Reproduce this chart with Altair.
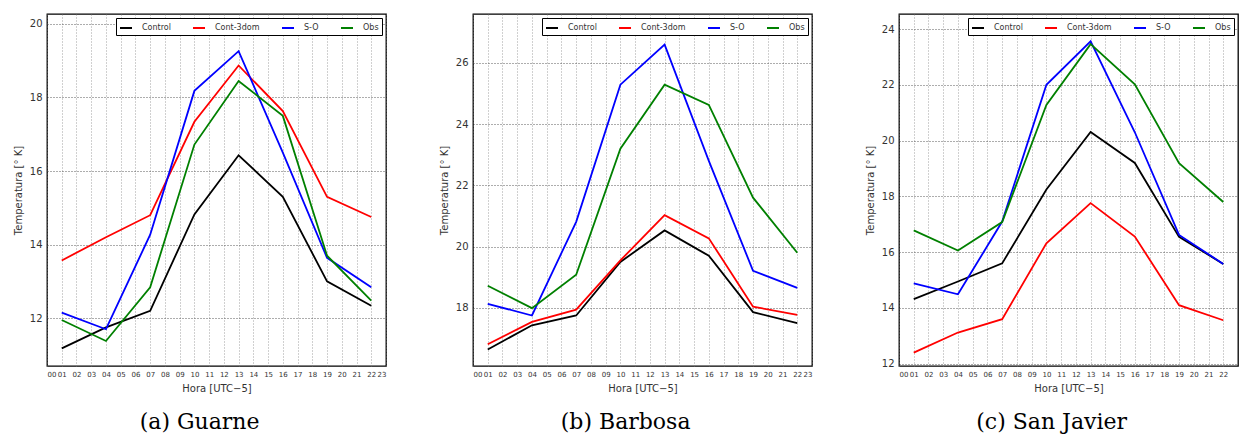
import altair as alt
import pandas as pd

# Hours of the simulated / observed records (UTC-5)
hours = [1, 4, 7, 10, 13, 16, 19, 22]
series_names = ["Control", "Cont-3dom", "S-O", "Obs"]
series_colors = ["#000000", "#ff0000", "#0000ff", "#008000"]

# Guarne
guarne_control = [11.18, 11.75, 12.2, 14.82, 16.43, 15.3, 13.0, 12.34]
guarne_cont3dom = [13.57, 14.2, 14.8, 17.34, 18.87, 17.63, 15.3, 14.75]
guarne_so = [12.15, 11.7, 14.27, 18.18, 19.26, 16.5, 13.64, 12.84]
guarne_obs = [11.95, 11.38, 12.84, 16.72, 18.45, 17.5, 13.7, 12.48]

# Barbosa
barbosa_control = [16.64, 17.43, 17.75, 19.5, 20.53, 19.7, 17.86, 17.5]
barbosa_cont3dom = [16.81, 17.54, 17.94, 19.55, 21.03, 20.27, 18.04, 17.77]
barbosa_so = [18.13, 17.75, 20.81, 25.29, 26.6, 22.8, 19.21, 18.65]
barbosa_obs = [18.72, 17.99, 19.08, 23.2, 25.29, 24.63, 21.6, 19.8]

# San Javier
sanjavier_control = [14.32, 14.95, 15.6, 18.25, 20.31, 19.2, 16.55, 15.58]
sanjavier_cont3dom = [12.4, 13.12, 13.6, 16.32, 17.76, 16.56, 14.1, 13.56]
sanjavier_so = [14.88, 14.49, 17.1, 22.0, 23.56, 20.3, 16.62, 15.58]
sanjavier_obs = [16.78, 16.06, 17.08, 21.28, 23.46, 22.02, 19.19, 17.8]

x_ticks_full = list(range(0, 24))
x_ticks_cut = list(range(0, 23))

FONT = "DejaVu Sans"
TEXT_COLOR = "#333333"


def long_table(station_series):
    rows = []
    for name, values in zip(series_names, station_series):
        for h, v in zip(hours, values):
            rows.append({"Hora": h, "Temperatura": v, "Serie": name})
    return pd.DataFrame(rows)


def panel(station_series, y_domain, y_ticks, x_ticks, caption):
    df = long_table(station_series)
    return (
        alt.Chart(df)
        .mark_line(strokeWidth=1.8, clip=True)
        .encode(
            x=alt.X(
                "Hora:Q",
                scale=alt.Scale(domain=[0, 23], nice=False, zero=False),
                axis=alt.Axis(
                    values=x_ticks,
                    format="02d",
                    title="Hora [UTC−5]",
                    labelFontSize=7,
                    labelColor=TEXT_COLOR,
                    labelFont=FONT,
                    labelPadding=4,
                    ticks=False,
                    titleFontSize=10,
                    titleFont=FONT,
                    titleFontWeight="normal",
                    titleColor=TEXT_COLOR,
                    titlePadding=6,
                    grid=True,
                    gridDash=[1, 2],
                    gridColor="#777777",
                    gridOpacity=0.7,
                    domain=False,
                ),
            ),
            y=alt.Y(
                "Temperatura:Q",
                scale=alt.Scale(domain=y_domain, nice=False, zero=False),
                axis=alt.Axis(
                    values=y_ticks,
                    format="d",
                    title="Temperatura [° K]",
                    labelFontSize=10,
                    labelColor=TEXT_COLOR,
                    labelFont=FONT,
                    labelPadding=5,
                    ticks=False,
                    titleFontSize=10,
                    titleFont=FONT,
                    titleFontWeight="normal",
                    titleColor=TEXT_COLOR,
                    titlePadding=6,
                    grid=True,
                    gridDash=[1, 2],
                    gridColor="#333333",
                    gridOpacity=0.8,
                    domain=False,
                ),
            ),
            color=alt.Color(
                "Serie:N",
                sort=series_names,
                scale=alt.Scale(domain=series_names, range=series_colors),
                legend=alt.Legend(
                    title=None,
                    orient="top-right",
                    direction="horizontal",
                    columns=4,
                    offset=4,
                    padding=3,
                    strokeColor="#000000",
                    fillColor="#ffffff",
                    symbolType="stroke",
                    symbolStrokeWidth=2,
                    symbolSize=144,
                    labelFontSize=8,
                    labelFont=FONT,
                    labelColor=TEXT_COLOR,
                    labelOffset=9,
                    columnPadding=18,
                ),
            ),
        )
        .properties(
            width=339,
            height=352,
            title=alt.TitleParams(
                caption,
                orient="bottom",
                anchor="middle",
                frame="bounds",
                font="DejaVu Serif",
                fontSize=22,
                fontWeight="normal",
                color="#000000",
                offset=19,
            ),
        )
    )


p1 = panel(
    [guarne_control, guarne_cont3dom, guarne_so, guarne_obs],
    [10.7, 20.27], [12, 14, 16, 18, 20], x_ticks_full, "(a) Guarne",
)
p2 = panel(
    [barbosa_control, barbosa_cont3dom, barbosa_so, barbosa_obs],
    [16.1, 27.6], [18, 20, 22, 24, 26], x_ticks_full, "(b) Barbosa",
)
p3 = panel(
    [sanjavier_control, sanjavier_cont3dom, sanjavier_so, sanjavier_obs],
    [11.92, 24.54], [12, 14, 16, 18, 20, 22, 24], x_ticks_cut, "(c) San Javier",
)

chart = (
    alt.hconcat(p1, p2, p3, spacing=87, bounds="flush")
    .resolve_scale(color="independent", x="independent", y="independent")
    .resolve_legend(color="independent")
    .properties(padding={"left": 12, "top": 13, "right": 0, "bottom": 0})
    .configure_view(stroke="#000000", strokeWidth=1.3)
)

chart.save("out.html", embed_options={"renderer": "svg", "actions": False})
